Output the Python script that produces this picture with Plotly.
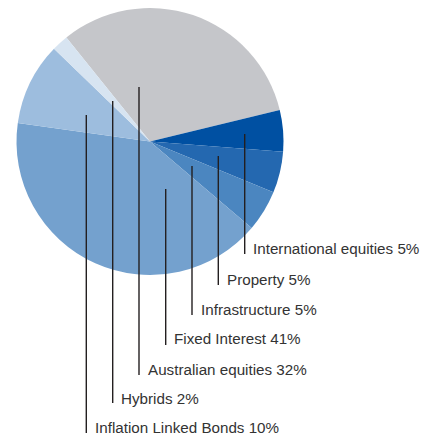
import plotly.graph_objects as go

labels = ["Australian equities", "International equities", "Property", "Infrastructure",
          "Fixed Interest", "Inflation Linked Bonds", "Hybrids"]
values = [32, 5, 5, 5, 41, 10, 2]
colors = ["#C5C6CA", "#0050A2", "#2468B0", "#4B86C0", "#74A1CE", "#9DBDDE", "#D7E4F1"]

W = H = 436
# leader line layout (pixels): x, top y, bottom y, label centre y
leaders = {
    "International equities": (244.7, 134, 254, 248.5),
    "Property": (218.3, 156, 285, 279.5),
    "Infrastructure": (192, 166, 315, 309.5),
    "Fixed Interest": (165.7, 189, 345, 338.5),
    "Australian equities": (139, 87, 375, 369),
    "Hybrids": (112.7, 101, 403, 398),
    "Inflation Linked Bonds": (86.3, 115, 433, 427.5),
}

def px(x):
    return x / W

def py(y):
    return 1 - y / H

cx, cy, r = 150, 141.5, 133.5

fig = go.Figure(go.Pie(
    labels=labels, values=values, sort=False, direction="clockwise",
    rotation=-38.8, marker=dict(colors=colors, line=dict(width=0)),
    textinfo="none", hoverinfo="label+percent", showlegend=False,
    domain=dict(x=[px(cx - r), px(cx + r)], y=[py(cy + r), py(cy - r)]),
))

shapes = []
annotations = []
for lab, val in zip(labels, values):
    x, yt, yb, ty = leaders[lab]
    shapes.append(dict(type="line", xref="paper", yref="paper",
                       x0=px(x), x1=px(x), y0=py(yt), y1=py(yb),
                       line=dict(color="#231F20", width=1.4)))
    annotations.append(dict(xref="paper", yref="paper", x=px(x + 6.5), y=py(ty),
                            xanchor="left", yanchor="middle", showarrow=False,
                            text=f"{lab} {val}%",
                            font=dict(family="Liberation Sans, Arial, sans-serif",
                                      size=15.2, color="#333333")))

fig.update_layout(width=W, height=H, margin=dict(l=0, r=0, t=0, b=0),
                  paper_bgcolor="white", plot_bgcolor="white",
                  shapes=shapes, annotations=annotations)
fig.write_html("out.html", config={"displayModeBar": False},
               post_script="document.body.style.margin='0';document.body.style.overflow='hidden';")
